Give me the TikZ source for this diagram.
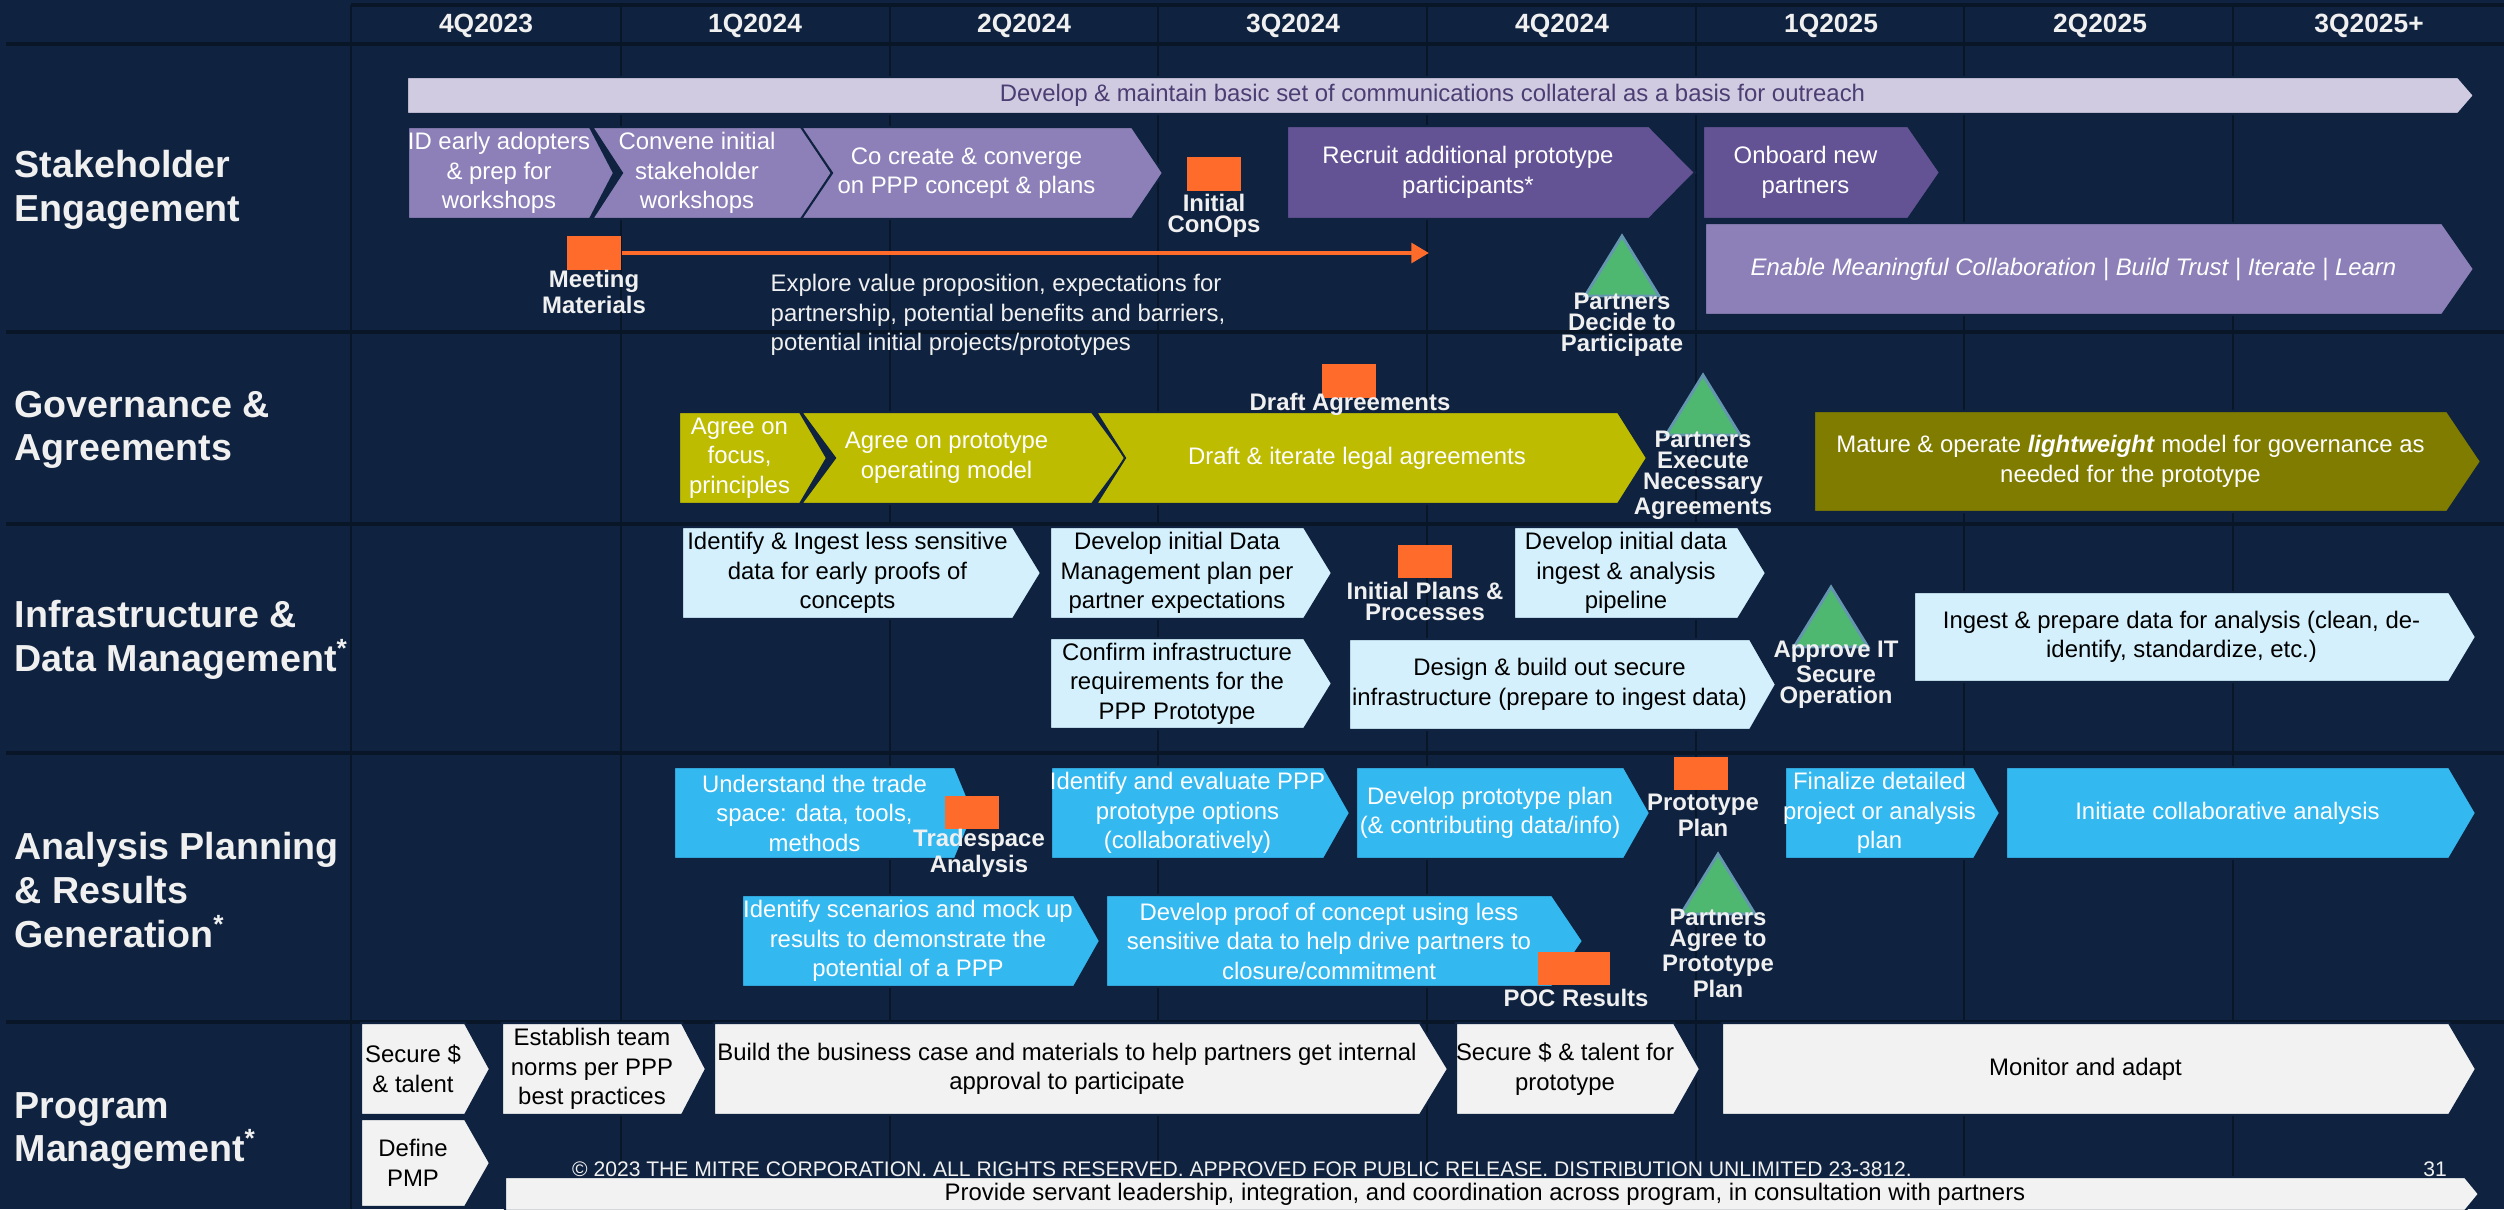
\documentclass[tikz,border=0pt]{standalone}
\usepackage{fontspec}
\setmainfont{Liberation Sans}
\usetikzlibrary{positioning, calc, arrows.meta}
\definecolor{bgnavy}{RGB}{15,35,64}
\definecolor{gridnavy}{RGB}{8,22,40}
\definecolor{lilac}{RGB}{209,203,226}
\definecolor{lilactext}{RGB}{75,62,115}
\definecolor{midpurple}{RGB}{141,128,184}
\definecolor{deeppurple}{RGB}{99,83,148}
\definecolor{limegov}{RGB}{190,188,0}
\definecolor{olivegov}{RGB}{127,124,0}
\definecolor{paleblue}{RGB}{211,240,252}
\definecolor{skyblue}{RGB}{52,184,240}
\definecolor{lightgrey}{RGB}{242,242,242}
\definecolor{delivorange}{RGB}{255,107,43}
\definecolor{gategreen}{RGB}{78,184,112}
\definecolor{gateedge}{RGB}{100,150,175}
\definecolor{labelwhite}{RGB}{240,240,240}

% arrow box with a flat back
\newcommand{\pent}[8][32]{%
  \filldraw[#2] (#4,#6) -- ({#5-#1},#6) -- (#5,{(#6+#7)/2}) -- ({#5-#1},#7) -- (#4,#7) -- cycle;
  \node[#2, boxtext, fill=none, draw=none] (#3) at ({(#4+#5-#1)/2},{(#6+#7)/2}) {#8};}
% chevron with a notched back
\newcommand{\chev}[8][32]{%
  \filldraw[#2] (#4,#6) -- ({#5-#1},#6) -- (#5,{(#6+#7)/2}) -- ({#5-#1},#7) -- (#4,#7) -- ({#4+#1},{(#6+#7)/2}) -- cycle;
  \node[#2, boxtext, fill=none, draw=none] (#3) at ({(#4+#5-#1)/2},{(#6+#7)/2}) {#8};}
% decision triangle, apex at #2,#3
\newcommand{\gate}[3]{%
  \coordinate (#1) at (#2,#3);
  \filldraw[gatetri] (#1) -- ++(37,60) -- ++(-74,0) -- cycle;}

\begin{document}
\begin{tikzpicture}[x=0.01cm, y=-0.01cm,
  box/.style={draw=bgnavy, line width=0.6pt},
  boxtext/.style={align=center, inner sep=0pt, font=\fontsize{6.8}{8.4}\selectfont},
  lilacbox/.style={box, fill=lilac, text=lilactext},
  purplebox/.style={box, fill=midpurple, text=white},
  deepbox/.style={box, fill=deeppurple, text=white},
  limebox/.style={box, fill=limegov, text=white},
  olivebox/.style={box, fill=olivegov, text=white},
  palebox/.style={box, fill=paleblue, text=black},
  skybox/.style={box, fill=skyblue, text=white},
  greybox/.style={box, fill=lightgrey, text=black},
  deliverable/.style={fill=delivorange, minimum width=0.54cm, minimum height=0.33cm, inner sep=0pt},
  delivlabel/.style={align=center, inner sep=0pt, text=labelwhite, font=\fontsize{6.8}{6}\selectfont\bfseries},
  gatetri/.style={fill=gategreen, draw=gateedge, line width=0.8pt},
  rowhead/.style={anchor=west, align=left, inner sep=0pt, text=labelwhite, font=\fontsize{10.7}{12.4}\selectfont\bfseries},
  quarter/.style={inner sep=0pt, text=labelwhite, font=\fontsize{7.5}{9}\selectfont\bfseries},
  footnote/.style={inner sep=0pt, text=labelwhite, font=\fontsize{6}{7}\selectfont},
  gridline/.style={draw=gridnavy, line width=0.7pt},
  rowline/.style={draw=gridnavy, line width=1.4pt}]
\useasboundingbox (0,0) rectangle (2504,1209);
\clip (0,0) rectangle (2504,1209);
\fill[bgnavy] (0,0) rectangle (2504,1209);

% Grid
\draw[rowline] (351,5) -- (2504,5);
\foreach \x in {351,621,890,1158,1427,1696,1964,2233}
  \draw[gridline] (\x,5) -- (\x,1209);
\foreach \y in {44,332,524,753,1022}
  \draw[rowline] (6,\y) -- (2504,\y);
\foreach \q [count=\i from 0] in {4Q2023,1Q2024,2Q2024,3Q2024,4Q2024,1Q2025,2Q2025,3Q2025+}
  \node[quarter] (q\i) at ({486+269*\i},26) {\q};

% Row labels
\node[rowhead] (stake) at (14,190) {Stakeholder\\Engagement};
\node[rowhead] (gov) at (14,430) {Governance \&\\Agreements};
\node[rowhead] (infra) at (14,640) {Infrastructure \&\\Data Management\textsuperscript{*}};
\node[rowhead] (analysis) at (14,890) {Analysis Planning\\\& Results\\Generation\textsuperscript{*}};
\node[rowhead] (program) at (14,1131) {Program\\Management\textsuperscript{*}};

% Stakeholder engagement
\pent[16]{lilacbox}{outreach}{407}{2474}{77}{114}{Develop \& maintain basic set of communications collateral as a basis for outreach}
\pent[24]{purplebox}{adopters}{408}{614}{127}{219}{ID early adopters\\\& prep for\\workshops}
\chev[30]{purplebox}{convene}{592}{832}{127}{219}{Convene initial\\stakeholder\\workshops}
\chev[31]{purplebox}{cocreate}{801}{1163}{127}{219}{Co create \& converge\\on PPP concept \& plans}
\pent[46]{deepbox}{recruit}{1287}{1695}{126}{219}{Recruit additional prototype\\participants*}
\pent{deepbox}{onboard}{1703}{1940}{126}{219}{Onboard new\\partners}
\pent{purplebox}{enable}{1705}{2474}{223}{315}{\textit{Enable Meaningful Collaboration | Build Trust | Iterate | Learn}}
\node[deliverable] (conops) at (1214,174) {};
\node[delivlabel] (conopslbl) at (1214,216) {Initial\\ConOps};
\node[deliverable] (meeting) at (594,253) {};
\node[delivlabel] (meetinglbl) at (594,292) {Meeting\\Materials};
\coordinate (exploreend) at (1429,253);
\draw[delivorange, line width=1.4pt, -{Triangle[length=5pt, width=5.5pt]}] (meeting.east) -- (exploreend);
\node[boxtext, anchor=west, align=left, text=labelwhite] (explore) at (770,315) {Explore value proposition, expectations for\\partnership, potential benefits and barriers,\\potential initial projects/prototypes};
\gate{decide}{1622}{236}
\node[delivlabel] (decidelbl) at (1622,325) {Partners\\Decide to\\Participate};

% Governance & agreements
\pent[27]{limebox}{focus}{679}{827}{412}{504}{Agree on\\focus,\\principles}
\chev[34]{limebox}{opmodel}{801}{1126}{412}{504}{Agree on prototype\\operating model}
\chev[29]{limebox}{legal}{1096}{1647}{412}{504}{Draft \& iterate legal agreements}
\node[deliverable] (draftagr) at (1349,381) {};
\node[delivlabel] (draftagrlbl) at (1350,404) {Draft Agreements};
\gate{execute}{1703}{375}
\node[delivlabel] (executelbl) at (1703,475) {Partners\\Execute\\Necessary\\Agreements};
\pent[34]{olivebox}{lightweight}{1814}{2481}{411}{512}{Mature \& operate \textbf{\textit{lightweight}} model for governance as\\needed for the prototype}

% Infrastructure & data management
\pent[28]{palebox}{earlydata}{682}{1041}{527}{619}{Identify \& Ingest less sensitive\\data for early proofs of\\concepts}
\pent[28]{palebox}{dmplan}{1050}{1332}{527}{619}{Develop initial Data\\Management plan per\\partner expectations}
\pent[28]{palebox}{pipeline}{1514}{1766}{527}{619}{Develop initial data\\ingest \& analysis\\pipeline}
\pent[28]{palebox}{infrareq}{1050}{1332}{638}{729}{Confirm infrastructure\\requirements for the\\PPP Prototype}
\pent[26]{palebox}{secureinfra}{1349}{1776}{639}{730}{Design \& build out secure\\infrastructure (prepare to ingest data)}
\pent[27]{palebox}{ingest}{1914}{2476}{592}{682}{Ingest \& prepare data for analysis (clean, de-\\identify, standardize, etc.)}
\node[deliverable] (plans) at (1425,561) {};
\node[delivlabel] (planslbl) at (1425,601) {Initial Plans \&\\Processes};
\gate{approve}{1831}{587}
\node[delivlabel] (approvelbl) at (1836,675) {Approve IT\\Secure\\Operation};

% Analysis planning & results generation
\pent[19]{skybox}{tradespace}{674}{974}{767}{859}{Understand the trade\\space: data, tools,\\methods}
\pent[26]{skybox}{options}{1051}{1350}{767}{859}{Identify and evaluate PPP\\prototype options\\(collaboratively)}
\pent[26]{skybox}{protoplan}{1356}{1650}{767}{859}{Develop prototype plan\\(\& contributing data/info)}
\pent[26]{skybox}{finalize}{1785}{2000}{767}{859}{Finalize detailed\\project or analysis\\plan}
\pent[27]{skybox}{initiate}{2006}{2476}{767}{859}{Initiate collaborative analysis}
\pent[26]{skybox}{scenarios}{742}{1100}{895}{987}{Identify scenarios and mock up\\results to demonstrate the\\potential of a PPP}
\pent[31]{skybox}{poc}{1106}{1583}{895}{987}{Develop proof of concept using less\\sensitive data to help drive partners to\\closure/commitment}
\node[deliverable] (trade) at (972,812) {};
\node[delivlabel] (tradelbl) at (979,853) {Tradespace\\Analysis};
\node[deliverable] (plan) at (1701,773) {};
\node[delivlabel] (planlbl) at (1703,815) {Prototype\\Plan};
\node[deliverable, minimum width=0.72cm] (pocres) at (1574,968) {};
\node[delivlabel] (pocreslbl) at (1576,998) {POC Results};
\gate{agree}{1718}{854}
\node[delivlabel] (agreelbl) at (1718,953) {Partners\\Agree to\\Prototype\\Plan};

% Program management
\pent[25]{greybox}{securetalent}{361}{490}{1023}{1115}{Secure \$\\\& talent}
\pent[24]{greybox}{norms}{502}{706}{1023}{1115}{Establish team\\norms per PPP\\best practices}
\pent[28]{greybox}{businesscase}{714}{1448}{1023}{1115}{Build the business case and materials to help partners get internal\\approval to participate}
\pent[26]{greybox}{protofund}{1456}{1700}{1023}{1115}{Secure \$ \& talent for\\prototype}
\pent[27]{greybox}{monitor}{1722}{2476}{1023}{1115}{Monitor and adapt}
\pent[25]{greybox}{pmp}{361}{490}{1119}{1207}{Define\\PMP}
\pent[14]{greybox}{servant}{505}{2479}{1177}{1211}{Provide servant leadership, integration, and coordination across program, in consultation with partners}

% Footer
\node[footnote] (legalnote) at (1242,1169) {© 2023 THE MITRE CORPORATION. ALL RIGHTS RESERVED. APPROVED FOR PUBLIC RELEASE. DISTRIBUTION UNLIMITED 23-3812.};
\node[footnote] (pagenum) at (2435,1169) {31};
\end{tikzpicture}
\end{document}
